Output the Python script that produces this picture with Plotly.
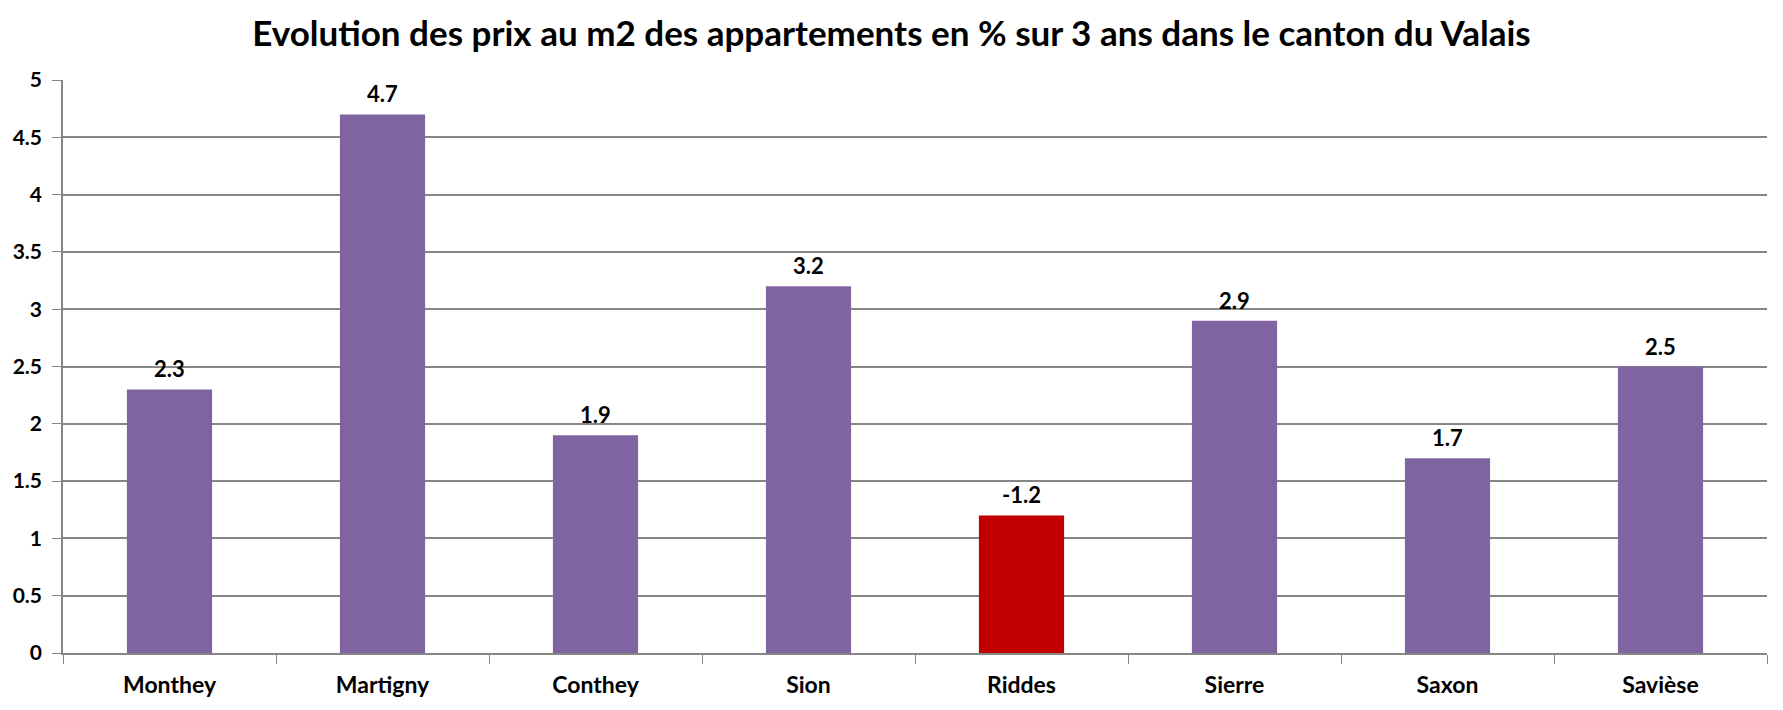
import plotly.graph_objects as go

categories = ["Monthey", "Martigny", "Conthey", "Sion", "Riddes", "Sierre", "Saxon", "Savièse"]
values = [2.3, 4.7, 1.9, 3.2, 1.2, 2.9, 1.7, 2.5]
labels = ["2.3", "4.7", "1.9", "3.2", "-1.2", "2.9", "1.7", "2.5"]
colors = ["#8064A2", "#8064A2", "#8064A2", "#8064A2", "#C00000", "#8064A2", "#8064A2", "#8064A2"]
y_ticks = [0, 0.5, 1, 1.5, 2, 2.5, 3, 3.5, 4, 4.5, 5]
y_tick_text = ["0", "0.5", "1", "1.5", "2", "2.5", "3", "3.5", "4", "4.5", "5"]

FONT = "Lato, 'Open Sans', sans-serif"

fig = go.Figure(go.Bar(x=categories, y=values, marker_color=colors, marker_line_width=0))

for c, v, t in zip(categories, values, labels):
    fig.add_annotation(x=c, y=v, text="<b>%s</b>" % t, showarrow=False,
                       yanchor="bottom", yshift=5,
                       font=dict(family=FONT, size=22, color="black"))

fig.update_layout(
    width=1783, height=710,
    margin=dict(l=63, r=16, t=80, b=57),
    paper_bgcolor="white", plot_bgcolor="white",
    bargap=0.6,
    showlegend=False,
    title=dict(text="<b>Evolution des prix au m2 des appartements en % sur 3 ans dans le canton du Valais</b>",
               x=0.5, xanchor="center", y=1 - 34 / 710, yanchor="middle",
               font=dict(family=FONT, size=35, color="black")),
    xaxis=dict(showline=True, linecolor="#868686", linewidth=1.5, automargin=False,
               ticks="outside", tickson="boundaries", ticklen=9, tickcolor="#868686",
               ticklabelstandoff=11,
               tickfont=dict(family=FONT, size=23, color="black"),
               tickprefix="<b>", ticksuffix="</b>", showgrid=False),
    yaxis=dict(range=[0, 5], tickvals=y_ticks, ticktext=["<b>%s</b>" % s for s in y_tick_text],
               showline=True, linecolor="#868686", linewidth=1.5, automargin=False,
               ticks="outside", ticklen=9, tickcolor="#868686",
               ticklabelstandoff=6,
               showgrid=True, gridcolor="#868686", gridwidth=1.5,
               zeroline=False,
               tickfont=dict(family=FONT, size=21, color="black")),
)

fig.write_html("out.html")
